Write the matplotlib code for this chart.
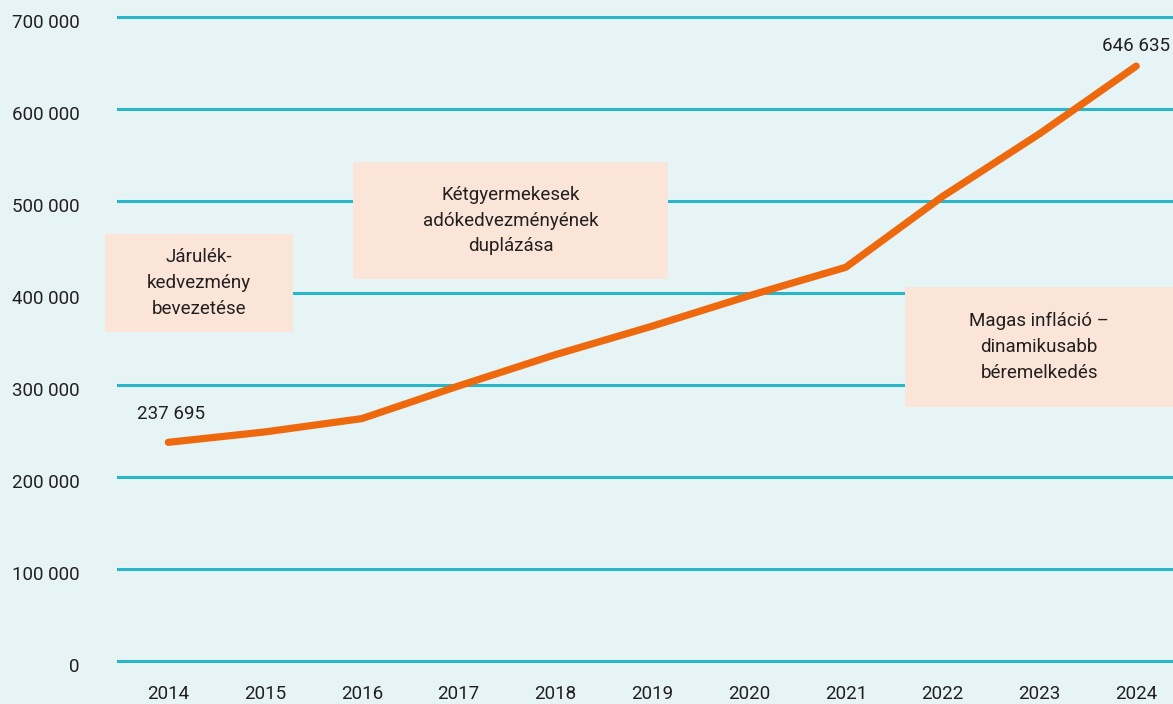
import matplotlib.pyplot as plt
from matplotlib.transforms import offset_copy

plt.rcParams['font.family'] = ['Roboto', 'DejaVu Sans']

years = [2014, 2015, 2016, 2017, 2018, 2019, 2020, 2021, 2022, 2023, 2024]
values = [237695, 249000, 263500, 299000, 333000, 364000, 397000, 428000, 505000, 573000, 646635]
yticks = [0, 100000, 200000, 300000, 400000, 500000, 600000, 700000]
ytick_labels = ['0', '100 000', '200 000', '300 000', '400 000', '500 000', '600 000', '700 000']
notes = ['Járulék-\nkedvezmény\nbevezetése',
         'Kétgyermekesek\nadókedvezményének\nduplázása',
         'Magas infláció –\ndinamikusabb\nbéremelkedés']

bg = '#e6f4f5'
grid_c = '#2ab5c8'
line_c = '#ee690d'
box_c = '#fbe5d8'
txt_c = '#231f20'

fig = plt.figure(figsize=(11.73, 7.04), dpi=100, facecolor=bg)
ax = fig.add_axes([118 / 1173, 1 - 661 / 704, 1 - 118 / 1173, (661 - 17) / 704])
ax.set_facecolor(bg)
ax.set_xlim(2013.48, 2024.38)
ax.set_ylim(0, 700000)

for t in yticks:
    ax.axhline(t, color=grid_c, lw=2.2, zorder=1, clip_on=False)

for s in ax.spines.values():
    s.set_visible(False)
ax.set_yticks([])
ax.set_xticks(years)
ax.set_xticklabels([str(y) for y in years], fontsize=13.5, color=txt_c)
ax.tick_params(axis='x', length=0, pad=17)

# y labels, right aligned at x~80px
for t, lab in zip(yticks, ytick_labels):
    tr = offset_copy(ax.get_yaxis_transform(), fig=fig, x=-27.5, y=-4.5, units='points')
    ax.text(0, t, lab, transform=tr, ha='right', va='center', fontsize=13.5, color=txt_c)

# annotation boxes (pixel extents in figure)
boxes = [(105, 234, 293, 332), (353, 162, 668, 279), (905, 287, 1173, 407)]
for (x0, y0, x1, y1), note in zip(boxes, notes):
    fig.patches.append(plt.Rectangle((x0 / 1173, 1 - y1 / 704), (x1 - x0) / 1173, (y1 - y0) / 704,
                                     transform=fig.transFigure, facecolor=box_c, edgecolor='none', zorder=2))
    fig.text((x0 + x1) / 2 / 1173, 1 - (y0 + y1) / 2 / 704, note, ha='center', va='center',
             fontsize=13.5, color=txt_c, linespacing=1.55, zorder=3)

ax.plot(years, values, color=line_c, lw=5.2, solid_capstyle='round', solid_joinstyle='round', zorder=4)

ax.annotate('237 695', (years[0], values[0]), xytext=(2, 14), textcoords='offset points',
            ha='center', va='bottom', fontsize=13.5, color=txt_c)
ax.annotate('646 635', (years[-1], values[-1]), xytext=(0, 8), textcoords='offset points',
            ha='center', va='bottom', fontsize=13.5, color=txt_c, annotation_clip=False)

fig.savefig('out.png', dpi=100, facecolor=bg)
